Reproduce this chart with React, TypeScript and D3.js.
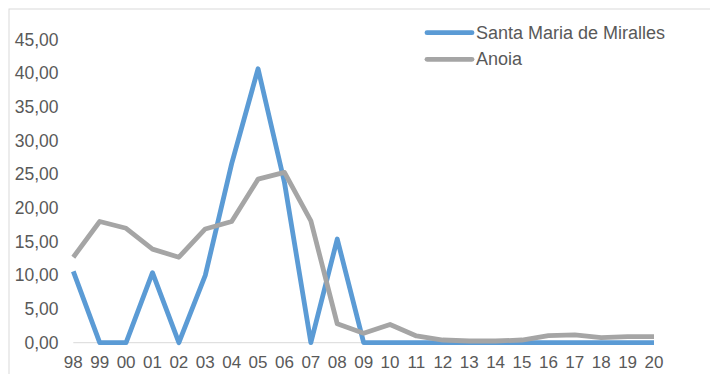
import React from "react";
import * as d3 from "d3";

const years = ["98","99","00","01","02","03","04","05","06","07","08","09","10","11","12","13","14","15","16","17","18","19","20"];
const santaMaria = [10.6,0,0,10.4,0,10.0,26.6,40.7,23.8,0,15.4,0,0,0,0,0,0,0,0,0,0,0,0];
const anoia = [12.7,18.0,17.0,13.9,12.7,16.9,18.0,24.3,25.3,18.1,2.8,1.4,2.7,1.0,0.4,0.25,0.25,0.4,1.05,1.15,0.75,0.9,0.9];
const yTicks = [0,5,10,15,20,25,30,35,40,45];
const seriesNames = ["Santa Maria de Miralles", "Anoia"];
const seriesColors = ["#5B9BD5", "#A5A5A5"];

const W = 710, H = 374;
const FONT = "'Liberation Sans', Arial, sans-serif";
const TXT = "#595959";

export default function App() {
  const x = d3.scalePoint<string>().domain(years).range([73.3, 654]);
  const y = d3.scaleLinear().domain([0, 45]).range([342.7, 39.8]);
  const fmt = (v: number) => v.toFixed(2).replace(".", ",");
  const line = d3.line<number>()
    .x((_, i) => x(years[i]) as number)
    .y((d) => y(d));
  const series = [santaMaria, anoia];
  return (
    <svg width={W} height={H} style={{ position: "absolute", left: 0, top: 0, background: "#fff" }}>
      <rect x={9} y={9} width={W + 20} height={H + 20} fill="#fff" stroke="#D9D9D9" strokeWidth={1} />
      <line x1={x(years[0])} x2={x(years[years.length - 1])} y1={y(0)} y2={y(0)} stroke="#D9D9D9" strokeWidth={1} />
      {yTicks.map((t) => (
        <text key={t} x={58.5} y={y(t)} textAnchor="end" dominantBaseline="central" fontFamily={FONT} fontSize={17.5} fill={TXT}>
          {fmt(t)}
        </text>
      ))}
      {years.map((yr) => (
        <text key={yr} x={x(yr)} y={362.5} textAnchor="middle" dominantBaseline="central" fontFamily={FONT} fontSize={17} fill={TXT}>
          {yr}
        </text>
      ))}
      {series.map((s, i) => (
        <path key={i} d={line(s) as string} fill="none" stroke={seriesColors[i]} strokeWidth={4.8} strokeLinejoin="round" strokeLinecap="butt" />
      ))}
      {seriesNames.map((n, i) => {
        const ly = 32.7 + i * 26.6;
        return (
          <g key={n}>
            <line x1={427} x2={472} y1={ly} y2={ly} stroke={seriesColors[i]} strokeWidth={4.8} strokeLinecap="round" />
            <text x={476} y={ly} dominantBaseline="central" fontFamily={FONT} fontSize={18} fill={TXT}>{n}</text>
          </g>
        );
      })}
    </svg>
  );
}
